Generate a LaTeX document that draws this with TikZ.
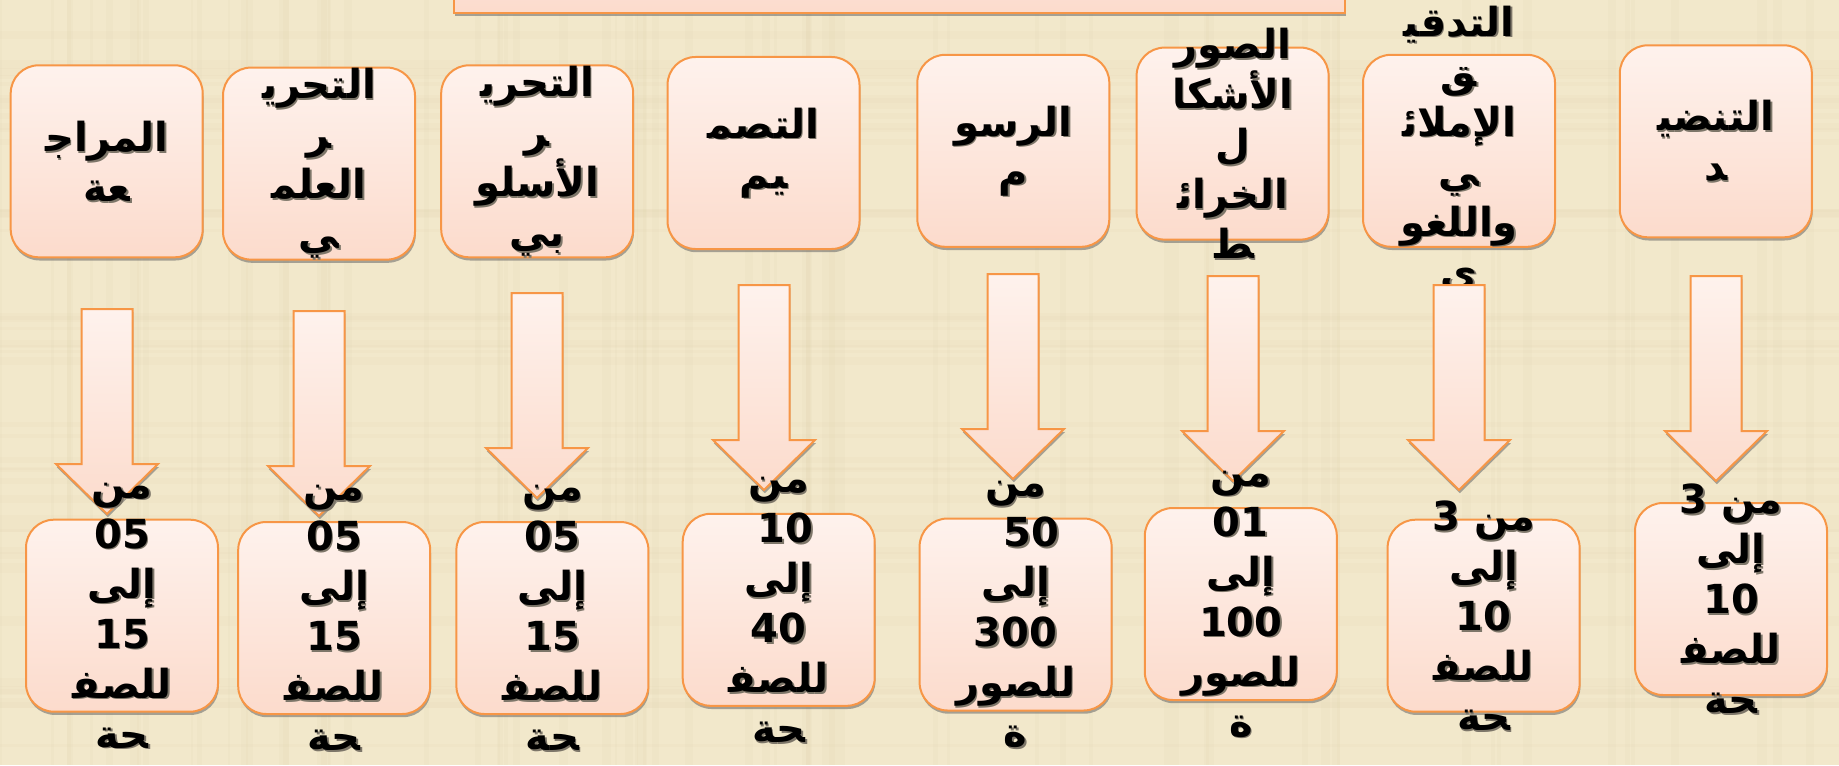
\documentclass[tikz,border=0pt]{standalone}
\usepackage{fontspec}
\usetikzlibrary{shadows}
\TeXXeTstate=1
\newfontfamily\arfont[Script=Arabic]{DejaVu Sans Bold}
\definecolor{parch}{RGB}{242,232,203}
\definecolor{grain}{RGB}{214,198,160}
\definecolor{boxtop}{RGB}{254,242,237}
\definecolor{boxbot}{RGB}{252,219,204}
\definecolor{edge}{RGB}{247,150,70}
\definecolor{txtsh}{RGB}{125,118,105}
\tikzset{
  % rounded box of the slide (size fixed, text may run out of it)
  box/.style={rectangle, rounded corners=14pt, draw=edge, line width=1pt,
              top color=boxtop, bottom color=boxbot, inner sep=0pt,
              minimum width=96pt, minimum height=96pt,
              drop shadow={shadow xshift=.4pt, shadow yshift=-1.6pt, fill=black!60, opacity=.55}},
  % block arrow
  blk/.style={draw=edge, line width=1pt, top color=boxtop, bottom color=boxbot,
              drop shadow={shadow xshift=.4pt, shadow yshift=-1.6pt, fill=black!60, opacity=.55}},
  txt/.style={align=center, inner sep=0pt, font=\arfont\fontsize{20}{25}\selectfont}
}
% text of a box, with its grey shadow
\newcommand\boxtext[2]{%
  \node[txt, text=txtsh] (#1s) at ([shift={(1.6,1.6)}]#1.center) {#2};
  \node[txt] (#1t) at (#1.center) {#2};}

\begin{document}
\begin{tikzpicture}[x=0.5pt, y=-0.5pt]
  \useasboundingbox (0,0) rectangle (1839,765);
  \fill[parch] (0,0) rectangle (1839,765);
  \clip (0,0) rectangle (1839,765);
  % paper grain
  \pgfmathsetseed{7}
  \foreach \i in {1,...,70}
    \draw[grain, opacity=.08, line width=1pt+4pt*rnd] ({1839*rnd},0) -- ++(0,765);
  \foreach \i in {1,...,45}
    \draw[grain, opacity=.07, line width=1pt+4pt*rnd] (0,{765*rnd}) -- ++(1839,0);

  \node[box, sharp corners, minimum width=445.5pt, minimum height=60pt] (head) at (899.5,-47) {};

  % upper row
  \node[box] (rev) at (106.7,161.3) {};
  \boxtext{rev}{المراج^^^^200d\\^^^^200dعة}
  \node[box] (sci) at (319,163.6) {};
  \boxtext{sci}{التحري^^^^200d\\^^^^200dر\\العلم^^^^200d\\^^^^200dي}
  \node[box] (sty) at (537.2,161.3) {};
  \boxtext{sty}{التحري^^^^200d\\^^^^200dر\\الأسلو\\بي}
  \node[box] (des) at (763.5,153) {};
  \boxtext{des}{التصم^^^^200d\\^^^^200dيم}
  \node[box] (drw) at (1013.3,150.8) {};
  \boxtext{drw}{الرسو\\م}
  \node[box] (img) at (1232.6,143.6) {};
  \boxtext{img}{الصور\\الأشكا\\ل\\الخرائ^^^^200d\\^^^^200dط}
  \node[box] (prf) at (1459,150.8) {};
  \boxtext{prf}{التدقي^^^^200d\\^^^^200dق\\الإملائ^^^^200d\\^^^^200dي\\واللغو\\ي}
  \node[box] (typ) at (1715.8,141.3) {};
  \boxtext{typ}{التنضي^^^^200d\\^^^^200dد}

  % arrows
  \foreach \x/\y in {107/309, 319/311, 537/293, 764/285, 1013/274, 1233/276, 1459/285, 1716/276}
    \path[blk] (\x-25.5,\y) -- ++(51,0) -- ++(0,155) -- ++(25.5,0) -- ++(-51,50)
               -- ++(-51,-50) -- ++(25.5,0) -- cycle;

  % lower row
  \node[box] (revn) at (122,615.7) {};
  \boxtext{revn}{من\\05\\إلى\\15\\للصف^^^^200d\\^^^^200dحة}
  \node[box] (scin) at (334.2,618) {};
  \boxtext{scin}{من\\05\\إلى\\15\\للصف^^^^200d\\^^^^200dحة}
  \node[box] (styn) at (552.4,618) {};
  \boxtext{styn}{من\\05\\إلى\\15\\للصف^^^^200d\\^^^^200dحة}
  \node[box] (desn) at (778.7,609.8) {};
  \boxtext{desn}{من\\\hspace*{7pt}10\\إلى\\40\\للصف^^^^200d\\^^^^200dحة}
  \node[box] (drwn) at (1015.6,614.5) {};
  \boxtext{drwn}{من\\\hspace*{16pt}50\\إلى\\300\\للصور\\ة}
  \node[box] (imgn) at (1240.8,604) {};
  \boxtext{imgn}{من\\01\\إلى\\100\\للصور\\ة}
  \node[box] (prfn) at (1483.6,615.7) {};
  \boxtext{prfn}{\beginR من 3\endR\\إلى\\10\\للصف^^^^200d\\^^^^200dحة}
  \node[box] (typn) at (1731,599) {};
  \boxtext{typn}{\beginR من 3\endR\\إلى\\10\\للصف^^^^200d\\^^^^200dحة}
\end{tikzpicture}
\end{document}
